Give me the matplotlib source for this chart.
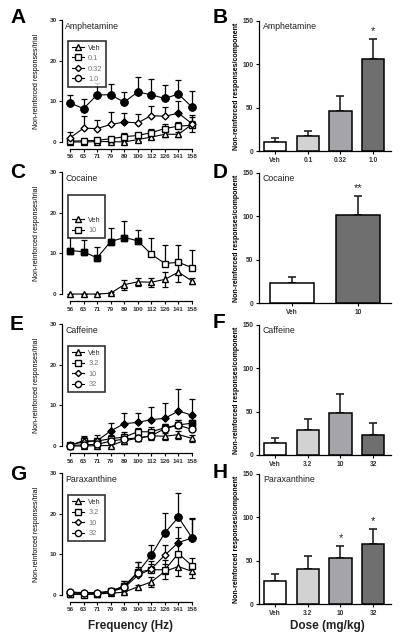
import numpy as np
import matplotlib.pyplot as plt
from matplotlib.lines import Line2D

plt.rcParams['font.family'] = ['Liberation Sans', 'DejaVu Sans']

freq_labels = ['56', '63', '71', '79', '89', '100', '112', '126', '141', '158']

# A: amphetamine, responses per trial
amph_doses = ['Veh', '0.1', '0.32', '1.0']
amph_means = [
    [0.0, 0.0, 0.1, 0.1, 0.0, 0.6, 1.2, 1.9, 1.9, 4.3],
    [0.2, 0.3, 0.4, 0.8, 1.3, 1.6, 2.3, 3.3, 3.9, 4.1],
    [1.0, 3.4, 3.3, 4.3, 4.9, 4.7, 6.5, 6.3, 7.1, 4.5],
    [9.6, 8.2, 11.6, 11.6, 9.8, 12.3, 11.6, 10.7, 11.8, 8.6],
]
amph_errs = [
    [0.2, 0.2, 0.2, 0.3, 0.3, 0.4, 0.5, 0.6, 0.6, 1.8],
    [0.3, 0.3, 0.3, 0.5, 0.8, 0.7, 0.8, 1.2, 1.1, 1.1],
    [1.5, 2.9, 2.0, 3.0, 2.3, 2.3, 2.4, 2.2, 3.0, 2.1],
    [1.9, 2.4, 2.9, 2.7, 2.4, 3.6, 4.0, 3.4, 3.5, 3.9],
]
amph_filled = [[], [], [4, 8], list(range(10))]

# C: cocaine
coc_doses = ['Veh', '10']
coc_means = [
    [0.0, 0.0, 0.0, 0.2, 2.3, 3.0, 2.9, 3.6, 5.4, 3.2],
    [10.7, 10.4, 8.9, 12.9, 13.9, 13.1, 9.8, 7.5, 7.8, 6.5],
]
coc_errs = [
    [0.1, 0.1, 0.1, 0.2, 1.2, 1.0, 1.1, 1.8, 2.5, 0.8],
    [3.4, 2.9, 2.7, 3.4, 4.0, 2.6, 4.1, 4.5, 4.2, 4.3],
]
coc_filled = [[], [0, 1, 2, 3, 4, 5]]

# E: caffeine
caf_doses = ['Veh', '3.2', '10', '32']
caf_means = [
    [0.0, 0.0, 0.1, 0.1, 1.3, 1.9, 2.5, 2.4, 2.8, 1.9],
    [0.2, 1.3, 1.2, 1.8, 2.2, 3.5, 3.5, 4.5, 5.2, 5.6],
    [0.3, 1.0, 1.3, 3.7, 5.5, 5.8, 6.5, 6.8, 8.6, 7.6],
    [0.1, 0.3, 0.4, 1.2, 1.7, 2.0, 2.5, 4.3, 5.1, 4.1],
]
caf_errs = [
    [0.2, 0.3, 0.3, 0.4, 0.7, 0.6, 1.0, 0.8, 1.0, 0.8],
    [0.3, 0.8, 0.6, 0.8, 1.2, 1.0, 1.2, 1.0, 1.3, 1.5],
    [0.3, 1.5, 1.4, 2.0, 2.5, 2.2, 3.0, 3.7, 5.3, 4.0],
    [0.2, 0.4, 0.5, 0.6, 0.8, 0.8, 1.0, 1.0, 1.2, 1.1],
]
caf_filled = [[], [9], [3, 4, 5, 6, 7, 8, 9], []]

# G: paraxanthine
para_doses = ['Veh', '3.2', '10', '32']
para_means = [
    [0.3, 0.3, 0.3, 0.4, 0.7, 2.0, 3.2, 5.8, 7.0, 5.8],
    [0.2, 0.1, 0.2, 1.0, 2.2, 5.6, 6.2, 6.2, 10.2, 7.2],
    [0.6, 0.5, 0.5, 0.8, 1.8, 4.8, 6.4, 9.8, 12.9, 14.0],
    [0.7, 0.6, 0.6, 0.9, 2.0, 5.5, 9.8, 15.3, 19.1, 14.1],
]
para_errs = [
    [0.2, 0.2, 0.2, 0.2, 0.3, 0.5, 1.2, 1.8, 2.4, 1.6],
    [0.2, 0.2, 0.2, 0.3, 1.2, 2.6, 1.5, 2.5, 3.7, 1.8],
    [0.2, 0.2, 0.2, 0.3, 1.2, 2.0, 2.0, 2.5, 3.9, 4.9],
    [0.2, 0.2, 0.2, 0.3, 1.4, 2.6, 2.6, 4.8, 5.9, 4.5],
]
para_filled = [[], [], [8, 9], [6, 7, 8, 9]]

# right column: responses per component
amph_bar_means = [10.7, 17.2, 46.4, 106]
amph_bar_errs = [3.9, 6.2, 16.8, 23]
amph_stars = ['', '', '', '*']
coc_bar_means = [22.9, 102]
coc_bar_errs = [6.9, 21.3]
coc_stars = ['', '**']
caf_bar_means = [14.2, 28.5, 48.5, 23.5]
caf_bar_errs = [5.4, 12.7, 21.5, 13.0]
caf_stars = ['', '', '', '']
para_bar_means = [26.9, 40.4, 53.5, 68.8]
para_bar_errs = [7.7, 14.6, 13.8, 17.7]
para_stars = ['', '', '*', '*']

markers = ['^', 's', 'D', 'o']
msizes = [4.5, 5, 3.5, 5]
grey4 = ['white', '#d2d2d2', '#a4a4aa', '#6f6f6f']
grey2 = ['white', '#6f6f6f']

fig = plt.figure(figsize=(4.0, 6.41), dpi=100)


def line_panel(bottom, title, doses, means, errs, filled, leg_top, pad_top=False):
    ax = fig.add_axes([0.155, bottom, 0.335, 0.1903])
    x = np.arange(len(freq_labels))
    mk = markers if len(doses) == 4 else ['^', 's']
    ms = msizes if len(doses) == 4 else [4.5, 5]
    for i in range(len(doses)):
        m = np.array(means[i])
        e = np.array(errs[i])
        low = e if i == 0 else np.zeros_like(e)
        eb = ax.errorbar(x, m, yerr=[low, e], fmt='none', ecolor='black',
                         elinewidth=0.9, capsize=2.2, capthick=0.9, zorder=2 + i)
        for art in eb.lines[1] + eb.lines[2]:
            art.set_clip_on(False)
        ax.plot(x, m, color='black', lw=0.8, marker=mk[i], ms=ms[i], mfc='white',
                mec='black', mew=1.0, zorder=2.5 + i, clip_on=False)
        idx = filled[i]
        if idx:
            ax.plot(x[idx], m[idx], ls='none', marker=mk[i], ms=ms[i], mfc='black',
                    mec='black', mew=1.0, zorder=2.6 + i, clip_on=False)
    ax.set_xlim(-0.59, 9.3)
    ax.set_ylim(0, 30)
    ax.set_yticks([0, 10, 20, 30])
    ax.set_xticks(x)
    ax.set_xticklabels(freq_labels)
    for s in ['top', 'right']:
        ax.spines[s].set_visible(False)
    ax.spines['bottom'].set_position(('outward', 5))
    ax.spines['bottom'].set_bounds(0, 9)
    ax.spines['left'].set_bounds(0, 30)
    for s in ['bottom', 'left']:
        ax.spines[s].set_linewidth(0.9)
    ax.tick_params(length=2.5, width=0.8, labelsize=4.6, pad=1.5)
    for lab in ax.get_xticklabels() + ax.get_yticklabels():
        lab.set_fontweight('bold')
        lab.set_color('#333333')
    ax.set_ylabel('Non-reinforced responses/trial', fontsize=5)
    ax.yaxis.set_label_coords(-0.165, 0.5)
    ax.text(0.025, 0.95, title, transform=ax.transAxes, fontsize=6.3,
            va='center', ha='left', color='#222222')
    handles = [Line2D([], [], color='black', lw=0.8, marker=mk[i], ms=ms[i] * 0.9,
                      mfc='white', mec='black', mew=1.0) for i in range(len(doses))]
    leg = ax.legend(handles, doses, loc='upper left', bbox_to_anchor=(0.02, leg_top),
                    fontsize=5.3, frameon=True, fancybox=False, handlelength=1.6,
                    handletextpad=0.6, labelspacing=0.45, borderpad=0.5,
                    title=' \n ' if pad_top else None, title_fontsize=5)
    leg.get_frame().set_edgecolor('black')
    leg.get_frame().set_linewidth(1.2)
    for j, t in enumerate(leg.get_texts()):
        t.set_color('#333333' if j == 0 else '#777777')
    return ax


def bar_panel(bottom, title, doses, means, errs, stars):
    ax = fig.add_axes([0.6475, bottom, 0.33, 0.2029])
    x = np.arange(len(doses))
    cols = grey4 if len(doses) == 4 else grey2
    ax.bar(x, means, width=0.68, color=cols, edgecolor='black', linewidth=1.1, zorder=3)
    ax.errorbar(x, means, yerr=[np.zeros(len(means)), errs], fmt='none', ecolor='#222222',
                elinewidth=1.2, capsize=3.2, capthick=1.2, zorder=2)
    for xi, m, e, s in zip(x, means, errs, stars):
        if s:
            ax.text(xi, m + e + 3, s, ha='center', va='bottom', fontsize=8, color='#222222')
    if len(doses) == 4:
        ax.set_xlim(-0.5, 3.55)
    else:
        ax.set_xlim(-0.5, 1.5)
    ax.set_ylim(0, 150)
    ax.set_yticks([0, 50, 100, 150])
    ax.set_xticks(x)
    ax.set_xticklabels(doses)
    for s in ['top', 'right']:
        ax.spines[s].set_visible(False)
    for s in ['bottom', 'left']:
        ax.spines[s].set_linewidth(0.9)
    ax.tick_params(length=2.5, width=0.8, labelsize=4.8, pad=1.5)
    for lab in ax.get_xticklabels() + ax.get_yticklabels():
        lab.set_fontweight('bold')
        lab.set_color('#333333')
    ax.set_ylabel('Non-reinforced responses/component', fontsize=5, fontweight='bold')
    ax.yaxis.set_label_coords(-0.145, 0.5)
    ax.text(0.03, 0.96, title, transform=ax.transAxes, fontsize=6.3,
            va='center', ha='left', color='#222222')
    return ax


line_panel(0.7785, 'Amphetamine', amph_doses, amph_means, amph_errs, amph_filled, 0.86)
line_panel(0.5413, 'Cocaine', coc_doses, coc_means, coc_errs, coc_filled, 0.845, pad_top=True)
line_panel(0.3042, 'Caffeine', caf_doses, caf_means, caf_errs, caf_filled, 0.85)
ax_g = line_panel(0.0718, 'Paraxanthine', para_doses, para_means, para_errs, para_filled, 0.85)

bar_panel(0.7644, 'Amphetamine', amph_doses, amph_bar_means, amph_bar_errs, amph_stars)
bar_panel(0.5273, 'Cocaine', coc_doses, coc_bar_means, coc_bar_errs, coc_stars)
bar_panel(0.2902, 'Caffeine', caf_doses, caf_bar_means, caf_bar_errs, caf_stars)
bar_panel(0.0577, 'Paraxanthine', para_doses, para_bar_means, para_bar_errs, para_stars)

for letter, x, y in [('A', 0.025, 17.5), ('C', 0.025, 173), ('E', 0.025, 324), ('G', 0.025, 474),
                     ('B', 0.532, 17.5), ('D', 0.532, 172), ('F', 0.532, 323), ('H', 0.532, 472)]:
    fig.text(x, 1 - y / 641, letter, fontsize=15, fontweight='bold', ha='left', va='center')

fig.text(0.325, 1 - 626 / 641, 'Frequency (Hz)', fontsize=8.5, fontweight='bold',
         ha='center', va='center', color='#222222')
fig.text(0.8175, 1 - 626 / 641, 'Dose (mg/kg)', fontsize=8.5, fontweight='bold',
         ha='center', va='center', color='#222222')

fig.savefig('out.png', dpi=100)
